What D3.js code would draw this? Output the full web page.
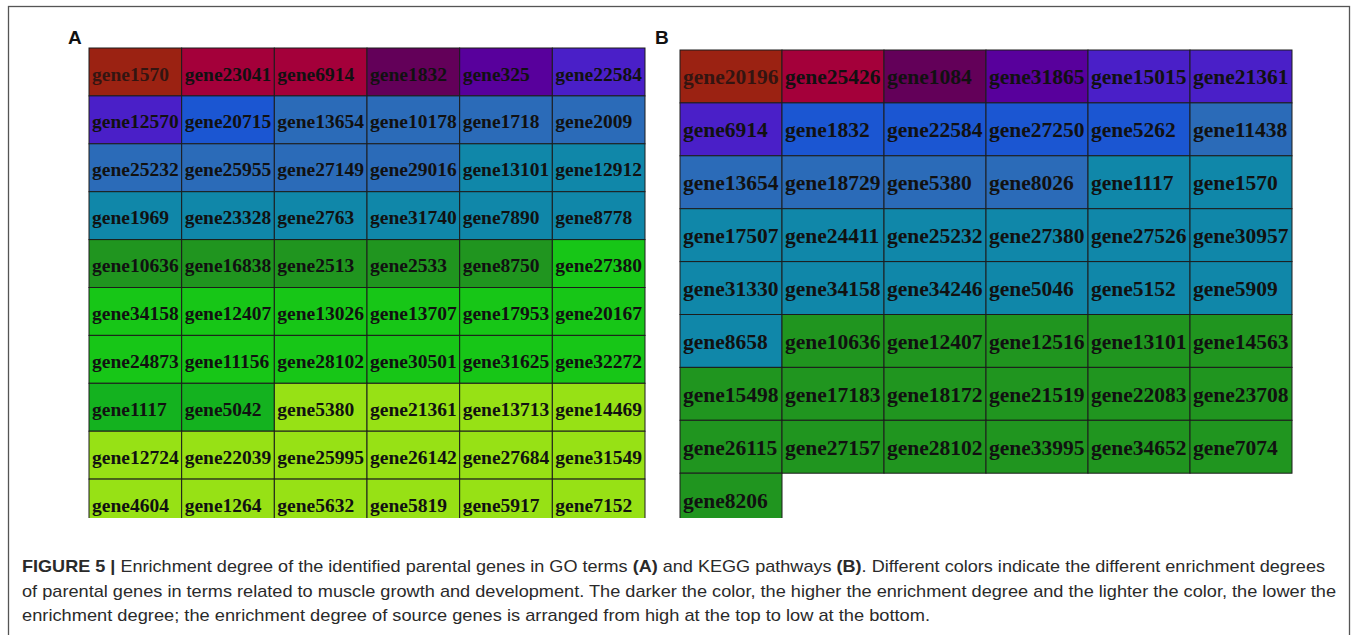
<!DOCTYPE html>
<html>
<head>
<meta charset="utf-8">
<script src="https://cdn.jsdelivr.net/npm/d3@7"></script>
<style>
  html, body { margin: 0; padding: 0; background: #fff; }
  svg { display: block; }
</style>
</head>
<body>
<svg id="fig" width="1357" height="635"></svg>
<script>
// Enrichment level palette: index 0 = highest enrichment, last = lowest
const levelColors = ["#9b2212", "#a4003a", "#630059", "#58009c", "#4a1fc8", "#1b56d2",
                     "#2b6bb8", "#1087a9", "#20951f", "#17c617", "#14b21f", "#97e115"];

// Panel A — GO terms (6 columns, row-major order)
const genesA = [
  "gene1570", "gene23041", "gene6914", "gene1832", "gene325", "gene22584",
  "gene12570", "gene20715", "gene13654", "gene10178", "gene1718", "gene2009",
  "gene25232", "gene25955", "gene27149", "gene29016", "gene13101", "gene12912",
  "gene1969", "gene23328", "gene2763", "gene31740", "gene7890", "gene8778",
  "gene10636", "gene16838", "gene2513", "gene2533", "gene8750", "gene27380",
  "gene34158", "gene12407", "gene13026", "gene13707", "gene17953", "gene20167",
  "gene24873", "gene11156", "gene28102", "gene30501", "gene31625", "gene32272",
  "gene1117", "gene5042", "gene5380", "gene21361", "gene13713", "gene14469",
  "gene12724", "gene22039", "gene25995", "gene26142", "gene27684", "gene31549",
  "gene4604", "gene1264", "gene5632", "gene5819", "gene5917", "gene7152"
];
const levelsA = [
  0, 1, 1, 2, 3, 4,
  4, 5, 6, 6, 6, 6,
  6, 6, 6, 6, 7, 7,
  7, 7, 7, 7, 7, 7,
  8, 8, 8, 8, 8, 9,
  9, 9, 9, 9, 9, 9,
  9, 9, 9, 9, 9, 9,
  10, 10, 11, 11, 11, 11,
  11, 11, 11, 11, 11, 11,
  11, 11, 11, 11, 11, 11
];

// Panel B — KEGG pathways (6 columns, row-major order)
const genesB = [
  "gene20196", "gene25426", "gene1084", "gene31865", "gene15015", "gene21361",
  "gene6914", "gene1832", "gene22584", "gene27250", "gene5262", "gene11438",
  "gene13654", "gene18729", "gene5380", "gene8026", "gene1117", "gene1570",
  "gene17507", "gene24411", "gene25232", "gene27380", "gene27526", "gene30957",
  "gene31330", "gene34158", "gene34246", "gene5046", "gene5152", "gene5909",
  "gene8658", "gene10636", "gene12407", "gene12516", "gene13101", "gene14563",
  "gene15498", "gene17183", "gene18172", "gene21519", "gene22083", "gene23708",
  "gene26115", "gene27157", "gene28102", "gene33995", "gene34652", "gene7074",
  "gene8206"
];
const levelsB = [
  0, 1, 2, 3, 4, 4,
  4, 5, 5, 5, 5, 6,
  6, 6, 6, 6, 7, 7,
  7, 7, 7, 7, 7, 7,
  7, 7, 7, 7, 7, 7,
  7, 8, 8, 8, 8, 8,
  8, 8, 8, 8, 8, 8,
  8, 8, 8, 8, 8, 8,
  8
];

const captionLines = [
  [["FIGURE 5 | ", true], ["Enrichment degree of the identified parental genes in GO terms ", false], ["(A)", true],
   [" and KEGG pathways ", false], ["(B)", true], [". Different colors indicate the different enrichment degrees", false]],
  [["of parental genes in terms related to muscle growth and development. The darker the color, the higher the enrichment degree and the lighter the color, the lower the", false]],
  [["enrichment degree; the enrichment degree of source genes is arranged from high at the top to low at the bottom.", false]]
];

const svg = d3.select("#fig");
const color = d3.scaleOrdinal().domain(d3.range(levelColors.length)).range(levelColors);

// outer frame of the figure
svg.append("rect")
  .attr("x", 8.5).attr("y", 6.5).attr("width", 1341).attr("height", 640)
  .attr("fill", "none").attr("stroke", "#555").attr("stroke-width", 1.3);

// shared clip: the grids are cut off at the same height
svg.append("defs").append("clipPath").attr("id", "gridClip")
  .append("rect").attr("x", 0).attr("y", 0).attr("width", 1357).attr("height", 518);

function drawPanel(opts) {
  const { genes, levels, x0, x1, y0, rowH, letter, letterX, fontSize, baseFrac } = opts;
  const nCols = 6;
  const nRows = Math.ceil(genes.length / nCols);
  const x = d3.scaleBand().domain(d3.range(nCols)).range([x0, x1]).padding(0);
  const y = d3.scaleBand().domain(d3.range(nRows)).range([y0, y0 + rowH * nRows]).padding(0);

  svg.append("text")
    .attr("x", letterX).attr("y", 44)
    .attr("font-family", "Liberation Sans, Arial, sans-serif")
    .attr("font-weight", "bold").attr("font-size", 19)
    .attr("fill", "#111").text(letter);

  const g = svg.append("g").attr("clip-path", "url(#gridClip)");
  const data = genes.map((name, i) => ({ name, level: levels[i], col: i % nCols, row: Math.floor(i / nCols) }));

  const cells = g.selectAll("g.cell").data(data).join("g").attr("class", "cell");
  cells.append("rect")
    .attr("x", d => x(d.col)).attr("y", d => y(d.row))
    .attr("width", x.bandwidth()).attr("height", y.bandwidth())
    .attr("fill", d => color(d.level))
    .attr("stroke", "#1c1c1c").attr("stroke-width", 1);
  cells.append("text")
    .attr("x", d => x(d.col) + 3)
    .attr("y", d => y(d.row) + y.bandwidth() * baseFrac)
    .attr("font-family", "Liberation Serif, Times New Roman, serif")
    .attr("font-weight", "bold").attr("font-size", fontSize)
    .attr("fill", "#111")
    .attr("opacity", d => d.level === 0 ? 0.75 : 1)
    .text(d => d.name);
}

drawPanel({ genes: genesA, levels: levelsA, x0: 89, x1: 645, y0: 48, rowH: 47.9,
            letter: "A", letterX: 68, fontSize: 19.5, baseFrac: 0.68 });
drawPanel({ genes: genesB, levels: levelsB, x0: 680, x1: 1292, y0: 50, rowH: 52.9,
            letter: "B", letterX: 655, fontSize: 21.5, baseFrac: 0.65 });

// caption: a narrow sans, fitted to the line widths
const capWidths = [1303, 1314, 908];
const capY = [572, 597, 621];
captionLines.forEach((parts, i) => {
  const t = svg.append("text")
    .attr("x", 22).attr("y", capY[i])
    .attr("font-family", "Liberation Sans, Arial, sans-serif")
    .attr("font-size", 17).attr("fill", "#2a2a2a")
    .attr("textLength", capWidths[i]).attr("lengthAdjust", "spacingAndGlyphs");
  parts.forEach(([s, b]) => {
    t.append("tspan").attr("font-weight", b ? "bold" : "normal").text(s);
  });
});
</script>
</body>
</html>
